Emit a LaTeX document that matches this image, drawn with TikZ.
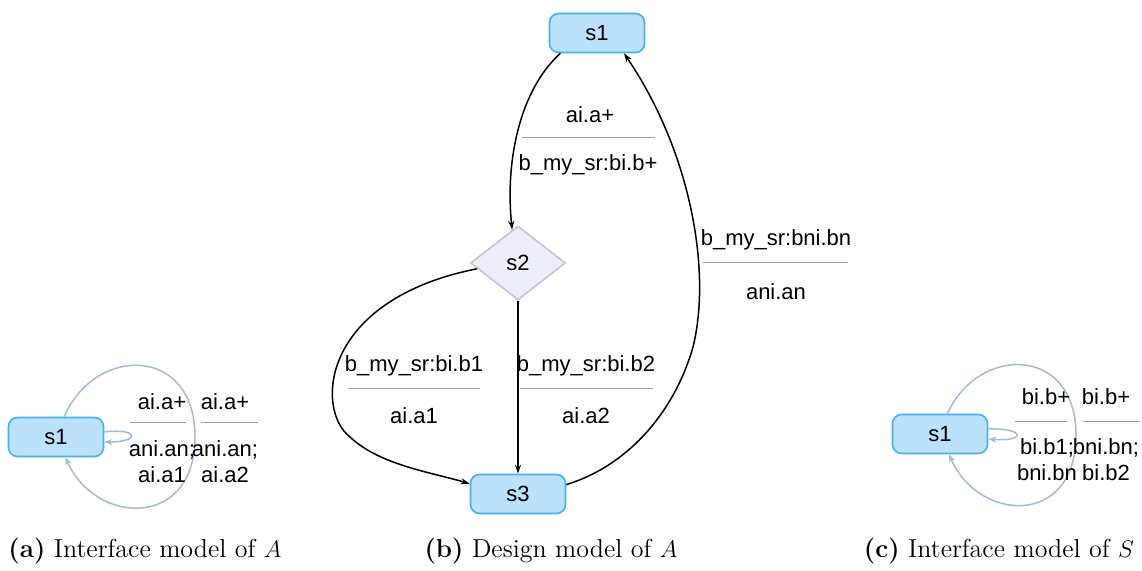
\documentclass[tikz,border=0pt]{standalone}
\usepackage{fontspec}
\newfontfamily\lblfont{Liberation Sans}
\usetikzlibrary{shapes.geometric,arrows.meta,calc}
\definecolor{stfill}{HTML}{BBE1FB}
\definecolor{stdraw}{HTML}{45B0F5}
\definecolor{chfill}{HTML}{EEEEFB}
\definecolor{chdraw}{HTML}{C6C1DB}
\definecolor{loopc}{HTML}{A0BDD6}
\definecolor{sepc}{HTML}{A0A0A0}
\tikzset{
  state/.style={rectangle, rounded corners=4.5pt, draw=stdraw, fill=stfill, line width=0.8pt,
    minimum width=47.5pt, minimum height=19.5pt, inner sep=0pt, font=\lblfont\fontsize{11}{13}\selectfont},
  choice/.style={diamond, aspect=1.28, draw=chdraw, fill=chfill, line width=0.8pt,
    minimum width=47.5pt, minimum height=37pt, inner sep=0pt, font=\lblfont\fontsize{11}{13}\selectfont},
  lbl/.style={inner sep=0pt, font=\lblfont\fontsize{11}{13}\selectfont},
  sepline/.style={draw=sepc, line width=0.5pt},
  tr/.style={-{Stealth[length=4.5pt,width=3pt]}, line width=0.75pt, black},
  lp/.style={-{Stealth[length=4pt,width=3pt]}, draw=loopc, line width=0.75pt},
  captext/.style={anchor=base, inner sep=0pt, font=\fontsize{13}{15}\selectfont}
}
\begin{document}
\begin{tikzpicture}[x=0.5pt,y=-0.5pt]
\useasboundingbox (0,0) rectangle (1142,571);

% ---------------- (a) interface model of A ----------------
\node[state] (s1a) at (56,437) {s1};
\coordinate (ra) at (195,437);
\draw[lp] (s1a.68) .. controls (95,345) and (195,345) .. (ra)
  .. controls (195,530) and (95,525) .. (s1a.-65);
\draw[lp] (s1a.6) .. controls (140,428) and (140,442) .. (s1a.-6);
\node[lbl] (a1t) at (162,402) {ai.a+};
\draw[sepline] (130,423) -- (186,423);
\node[lbl] (a1m) at (162,450) {ani.an;};
\node[lbl] (a1b) at (162,475) {ai.a1};
\node[lbl] (a2t) at (225,402) {ai.a+};
\draw[sepline] (201,423) -- (258,423);
\node[lbl] (a2m) at (225,450) {ani.an;};
\node[lbl] (a2b) at (225,475) {ai.a2};

% ---------------- (b) design model of A ----------------
\node[state] (s1b) at (597,33) {s1};
\node[choice] (s2) at (518,263) {s2};
\node[state] (s3) at (518,494) {s3};
\draw[tr] (s1b.209) .. controls (520,90) and (505,160) .. (s2.100);
\draw[tr] (s2.188) .. controls (320,300) and (315,410) .. (350,437)
  .. controls (380,465) and (430,472) .. (s3.168);
\draw[tr] (s2.south) -- (s3.north);
\draw[tr] (s3.11) .. controls (630,465) and (675,410) .. (693,347)
  .. controls (712,270) and (690,150) .. (s1b.-37);
\node[lbl] (l1t) at (590,115) {ai.a+};
\draw[sepline] (522,138) -- (655,138);
\node[lbl] (l1b) at (588,165) {b\_my\_sr:bi.b+};
\node[lbl] (l2t) at (414,366) {b\_my\_sr:bi.b1};
\draw[sepline] (348,389) -- (480,389);
\node[lbl] (l2b) at (414,416) {ai.a1};
\node[lbl] (l3t) at (586,366) {b\_my\_sr:bi.b2};
\draw[sepline] (520,389) -- (653,389);
\node[lbl] (l3b) at (586,416) {ai.a2};
\node[lbl] (l4t) at (776,240) {b\_my\_sr:bni.bn};
\draw[sepline] (703,263) -- (848,263);
\node[lbl] (l4b) at (776,292) {ani.an};

% ---------------- (c) interface model of S ----------------
\node[state] (s1c) at (940,434) {s1};
\coordinate (rc) at (1076,435);
\draw[lp] (s1c.70) .. controls (978,345) and (1076,345) .. (rc)
  .. controls (1076,528) and (978,522) .. (s1c.-66);
\draw[lp] (s1c.6) .. controls (1026,428) and (1026,442) .. (s1c.-6);
\node[lbl] (c1t) at (1046,397) {bi.b+};
\draw[sepline] (1015,422) -- (1067,422);
\node[lbl] (c1m) at (1047,448) {bi.b1;};
\node[lbl] (c1b) at (1047,473) {bni.bn};
\node[lbl] (c2t) at (1106,397) {bi.b+};
\draw[sepline] (1083,422) -- (1140,422);
\node[lbl] (c2m) at (1106,448) {bni.bn;};
\node[lbl] (c2b) at (1106,473) {bi.b2};

% ---------------- captions ----------------
\node[captext] (capa) at (145,558) {\textbf{(a)} Interface model of $A$};
\node[captext] (capb) at (551,558) {\textbf{(b)} Design model of $A$};
\node[captext] (capc) at (999,558) {\textbf{(c)} Interface model of $S$};
\end{tikzpicture}
\end{document}
